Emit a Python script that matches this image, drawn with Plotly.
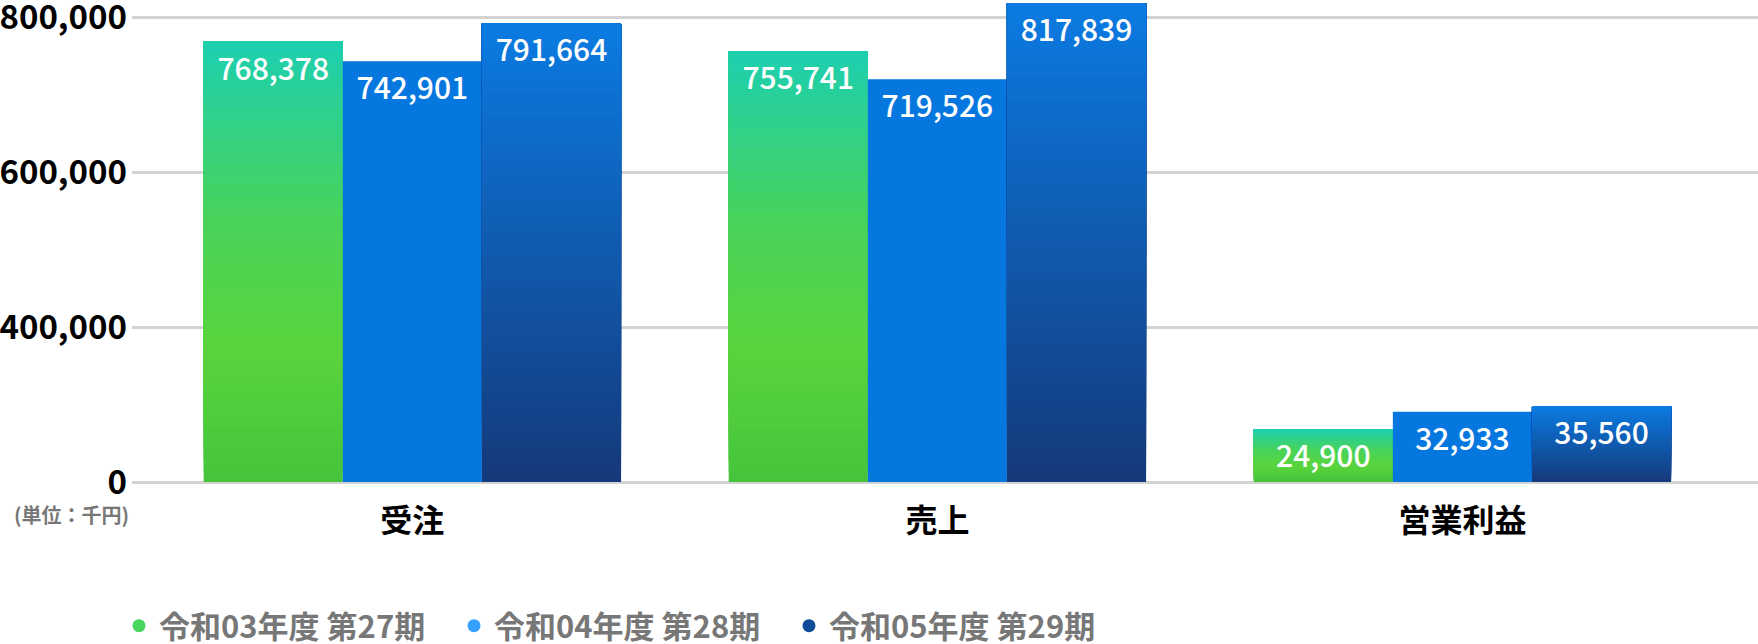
import numpy as np
import plotly.graph_objects as go

FONT = "Noto Sans CJK JP"

# data (千円)
categories = ["受注", "売上", "営業利益"]
series_names = ["令和03年度 第27期", "令和04年度 第28期", "令和05年度 第29期"]
values_r03 = [768378, 755741, 24900]
values_r04 = [742901, 719526, 32933]
values_r05 = [791664, 817839, 35560]

tick_values = [0, 400000, 600000, 800000]
tick_labels = ["0", "400,000", "600,000", "800,000"]

# the original axis is compressed: equal spacing between 0 / 400k / 600k / 800k
scale_points = [0, 40000, 400000, 600000, 800000]
scale_units = [0, 0.55, 1, 2, 3]


def to_axis(v):
    """piecewise linear value -> axis units (extrapolates past the top)"""
    if v > scale_points[-1]:
        slope = (scale_units[-1] - scale_units[-2]) / (scale_points[-1] - scale_points[-2])
        return scale_units[-1] + (v - scale_points[-1]) * slope
    return float(np.interp(v, scale_points, scale_units))


def hex_rgb(h):
    h = h.lstrip("#")
    return [int(h[i:i + 2], 16) for i in (0, 2, 4)]


def gradient_color(stops, t):
    """stops: list of (pos, hex), t in 0..1 (0 = top of bar)"""
    for (p0, c0), (p1, c1) in zip(stops[:-1], stops[1:]):
        if p0 <= t <= p1:
            f = (t - p0) / (p1 - p0) if p1 > p0 else 0
            a, b = hex_rgb(c0), hex_rgb(c1)
            rgb = [round(a[i] + (b[i] - a[i]) * f) for i in range(3)]
            return "rgb(%d,%d,%d)" % tuple(rgb)
    return stops[-1][1]


green_stops = [(0, "#1dcfb0"), (0.4, "#48d35a"), (0.7, "#5ad43c"), (1, "#45c43c")]
blue_stops = [(0, "#0677de"), (1, "#0677de")]
navy_stops = [(0, "#0b7be2"), (1, "#15397a")]
legend_colors = ["#48d65e", "#36a0ff", "#0e4b98"]

all_values = [values_r03, values_r04, values_r05]
all_stops = [green_stops, blue_stops, navy_stops]
N_SLICES = 40

fig = go.Figure()

for i, (vals, stops) in enumerate(zip(all_values, all_stops)):
    heights = [to_axis(v) for v in vals]
    n = 1 if stops[0][1] == stops[-1][1] else N_SLICES
    # each slice runs from its own base up to the bar top; the next one covers it,
    # so there are no hairline gaps between the colour steps
    for k in range(n):
        t = 1 - (k + 0.5) / n
        fig.add_trace(go.Bar(
            x=categories,
            y=[h * (n - k) / n for h in heights],
            base=[h * k / n for h in heights],
            offsetgroup=str(i),
            marker=dict(color=gradient_color(stops, t), line=dict(width=0)),
            showlegend=False,
            hoverinfo="skip",
        ))
    # transparent bar on top, just for the value labels
    fig.add_trace(go.Bar(
        x=categories,
        y=heights,
        offsetgroup=str(i),
        marker=dict(color="rgba(0,0,0,0)", line=dict(width=0)),
        text=[f"{v:,}" for v in vals],
        textposition="inside",
        insidetextanchor="end",
        textangle=0,
        textfont=dict(family=FONT, size=30, color="white", weight=500),
        showlegend=False,
        hovertemplate="%{x}: %{text}<extra>" + series_names[i] + "</extra>",
    ))

# legend entries with round markers
for name, c in zip(series_names, legend_colors):
    fig.add_trace(go.Scatter(
        x=[None], y=[None], mode="markers", name=name,
        marker=dict(size=13, color=c, symbol="circle"),
    ))

fig.add_annotation(
    text="(単位：千円)", xref="paper", yref="paper",
    x=-0.0738, y=-0.062, xanchor="left", yanchor="middle", showarrow=False,
    font=dict(family=FONT, size=20, color="#777777", weight="bold"),
)

px_per_unit = 155
plot_h = 484
fig.update_layout(
    width=1758,
    height=644,
    margin=dict(l=132, r=0, t=0, b=644 - plot_h),
    plot_bgcolor="white",
    paper_bgcolor="white",
    font=dict(family=FONT, color="black"),
    barmode="group",
    bargap=0.205,
    bargroupgap=0,
    legend=dict(
        orientation="h",
        xref="container", yref="container",
        x=119 / 1758, y=(644 - 626) / 644,
        xanchor="left", yanchor="middle",
        entrywidth=290,
        bgcolor="rgba(0,0,0,0)",
        font=dict(family=FONT, size=31, color="#777777", weight="bold"),
    ),
    xaxis=dict(
        range=[-0.534, 2.563],
        automargin=False,
        showgrid=False,
        zeroline=False,
        ticks="",
        ticklabelstandoff=15,
        tickfont=dict(family=FONT, size=32, color="black", weight="bold"),
    ),
    yaxis=dict(
        range=[-2 / px_per_unit, (plot_h - 2) / px_per_unit],
        automargin=False,
        tickvals=[to_axis(v) for v in tick_values],
        ticktext=tick_labels,
        ticks="",
        ticklabeloverflow="allow",
        ticklabelstandoff=4,
        tickfont=dict(family=FONT, size=33, color="black", weight="bold"),
        gridcolor="#d3d3d3",
        gridwidth=3,
        zeroline=True,
        zerolinecolor="#d3d3d3",
        zerolinewidth=3,
        showline=False,
    ),
)

fig.write_html("out.html", config={"displayModeBar": False},
               post_script="document.body.style.margin='0';")
